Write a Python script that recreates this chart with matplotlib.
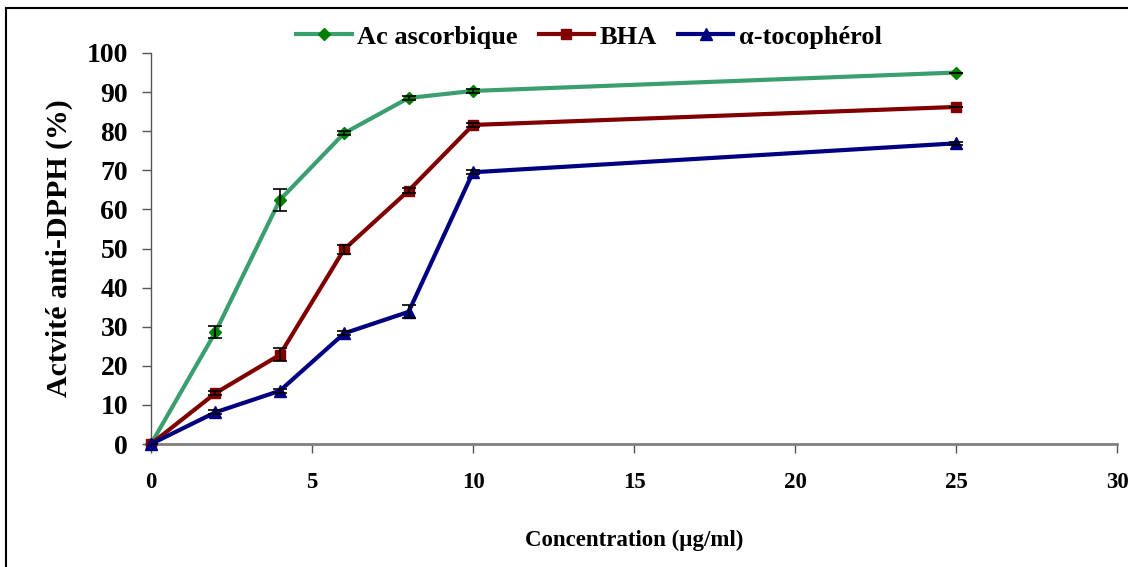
import matplotlib
matplotlib.use("Agg")
import matplotlib.pyplot as plt
from matplotlib.patches import Rectangle

plt.rcParams['font.family'] = ['Liberation Serif', 'DejaVu Serif']
plt.rcParams['font.weight'] = 'bold'

# concentrations testées (µg/ml)
conc = [0, 2, 4, 6, 8, 10, 25]

# activité anti-DPPH (%) et écarts-types
ascorbique = [0, 28.6, 62.4, 79.5, 88.5, 90.3, 95.0]
ascorbique_err = [0, 1.5, 2.9, 0.5, 0.5, 0.5, 0]
bha = [0, 13.0, 22.8, 49.8, 64.8, 81.6, 86.2]
bha_err = [0, 0.5, 1.7, 1.1, 0.7, 0.5, 0]
toco = [0, 8.1, 13.6, 28.3, 33.8, 69.5, 76.9]
toco_err = [0, 0.5, 0.5, 0.5, 1.7, 0.5, 0.4]

labels = ['Ac ascorbique', 'BHA', 'α-tocophérol']
line_colors = ['#3a9e6e', '#800000', '#000080']
marker_colors = ['#008000', '#800000', '#000080']
markers = ['D', 's', '^']
marker_sizes = [6, 7, 8]

fig = plt.figure(figsize=(11.28, 5.67), dpi=100)
ax = fig.add_axes([151 / 1128, 1 - 444 / 567, (1117 - 151) / 1128, (444 - 53) / 567])

series = [(ascorbique, ascorbique_err), (bha, bha_err), (toco, toco_err)]
for (vals, errs), lab, lc, mc, mk, ms in zip(series, labels, line_colors,
                                               marker_colors, markers, marker_sizes):
    ax.plot(conc, vals, color=lc, lw=3, marker=mk, ms=ms, mfc=mc, mec=mc,
            label=lab, zorder=3, clip_on=False)
    ax.errorbar(conc, vals, yerr=errs, fmt='none', ecolor='black',
                elinewidth=1.2, capsize=5, capthick=1.2, zorder=4)

ax.set_xlim(0, 30)
ax.set_ylim(0, 100)
ax.set_xticks(range(0, 31, 5))
ax.set_yticks(range(0, 101, 10))

ax.spines['top'].set_visible(False)
ax.spines['right'].set_visible(False)
ax.spines['bottom'].set_color('#808080')
ax.spines['bottom'].set_linewidth(2)
ax.spines['left'].set_color('#555555')
ax.spines['left'].set_linewidth(1)

ax.tick_params(axis='y', direction='out', length=6.5, width=1,
               color='#555555', labelsize=20, pad=10)
ax.tick_params(axis='x', direction='out', length=6.5, width=1,
               color='#555555', labelsize=16.5, pad=14)

ax.set_xlabel('Concentration (µg/ml)', fontsize=16.5, fontweight='bold', labelpad=26)
ax.set_ylabel('Actvité anti-DPPH (%)', fontsize=21.5, fontweight='bold', labelpad=10)

fig.legend(loc='center', bbox_to_anchor=(589 / 1128, 1 - 37 / 567), ncol=3,
           frameon=False, fontsize=19, handlelength=2.1, handletextpad=0.2,
           columnspacing=0.8, borderaxespad=0)

# cadre autour de la figure
fig.patches.append(Rectangle((6 / 1128, -0.05), 1.1, 1 - 8 / 567 + 0.05,
                             transform=fig.transFigure, fill=False,
                             edgecolor='black', lw=1.5, clip_on=False))

fig.savefig('out.png', dpi=100)
